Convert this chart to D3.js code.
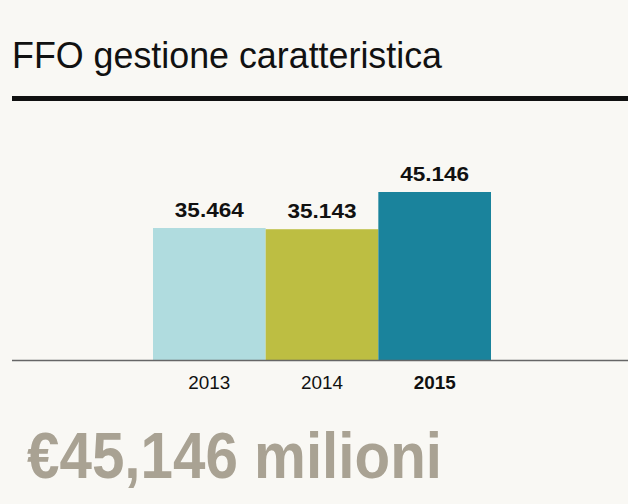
<!DOCTYPE html>
<html><head><meta charset="utf-8">
<script src="https://cdn.jsdelivr.net/npm/d3@7"></script>
<style>html,body{margin:0;padding:0;background:#f9f8f4;}svg{display:block;}</style>
</head><body>
<svg id="c" width="628" height="504"></svg>
<script>
const title = "FFO gestione caratteristica";
const years = ["2013", "2014", "2015"];
const values = [35464, 35143, 45146];
const valueLabels = ["35.464", "35.143", "45.146"];
const colors = ["#b0dcdf", "#bdbe42", "#1a839c"];
const highlight = "2015";
const headline = "€45,146 milioni";

const svg = d3.select("#c");
svg.append("rect").attr("width", 628).attr("height", 504).attr("fill", "#f9f8f4");

svg.append("text").attr("x", 12).attr("y", 68)
  .attr("font-family", "'Liberation Sans Narrow', 'Arial Narrow', sans-serif")
  .attr("font-size", 37).attr("fill", "#111")
  .attr("textLength", 430).attr("lengthAdjust", "spacingAndGlyphs")
  .text(title);

svg.append("rect").attr("x", 12).attr("y", 96).attr("width", 616).attr("height", 5).attr("fill", "#111");

const x = d3.scaleBand().domain(years).range([153, 491]).padding(0);
const y = d3.scaleLinear().domain([0, 45146]).range([360, 192]);

svg.selectAll("rect.bar").data(years).join("rect").attr("class", "bar")
  .attr("x", d => x(d)).attr("width", x.bandwidth())
  .attr("y", (d, i) => y(values[i])).attr("height", (d, i) => y(0) - y(values[i]))
  .attr("fill", (d, i) => colors[i]);

svg.selectAll("text.val").data(years).join("text").attr("class", "val")
  .attr("x", d => x(d) + x.bandwidth() / 2)
  .attr("y", (d, i) => y(values[i]) - 11)
  .attr("text-anchor", "middle")
  .attr("font-family", "'Liberation Sans', Arial, sans-serif")
  .attr("font-weight", "bold").attr("font-size", 21).attr("fill", "#111")
  .attr("textLength", 69).attr("lengthAdjust", "spacingAndGlyphs")
  .text((d, i) => valueLabels[i]);

const axis = d3.axisBottom(x).tickSize(0).tickPadding(0);
const gA = svg.append("g").attr("transform", "translate(0,360)").call(axis);
gA.select(".domain").remove();
svg.append("line").attr("x1", 12).attr("x2", 628).attr("y1", 360.5).attr("y2", 360.5)
  .attr("stroke", "#666").attr("stroke-width", 1.5);
gA.selectAll(".tick text")
  .attr("y", 29).attr("dy", 0)
  .attr("font-family", "'Liberation Sans Narrow', 'Arial Narrow', sans-serif")
  .attr("font-size", 18).attr("fill", "#111")
  .attr("font-weight", d => d === highlight ? "bold" : "normal")
  .attr("textLength", 42).attr("lengthAdjust", "spacingAndGlyphs");

svg.append("text").attr("x", 27).attr("y", 478)
  .attr("font-family", "'Liberation Sans Narrow', 'Arial Narrow', sans-serif")
  .attr("font-weight", "bold").attr("font-size", 64).attr("fill", "#a9a293")
  .attr("textLength", 415).attr("lengthAdjust", "spacingAndGlyphs")
  .text(headline);
</script>
</body></html>
